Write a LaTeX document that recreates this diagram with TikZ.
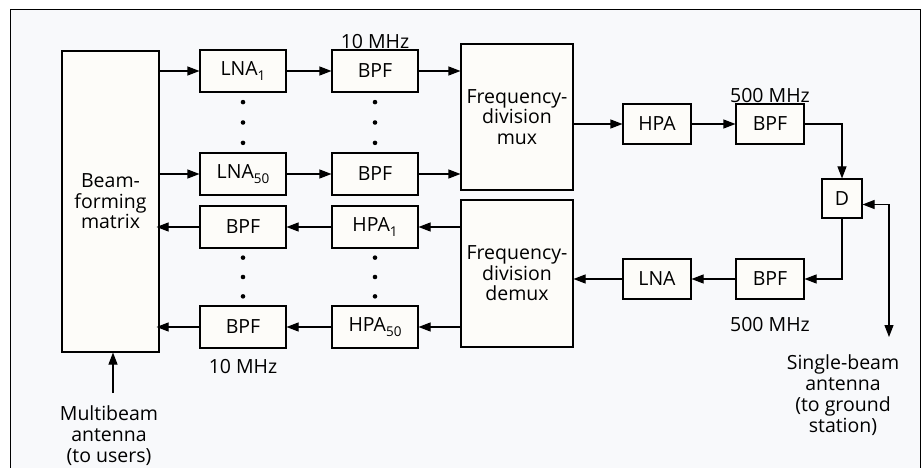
\documentclass[tikz,border=0pt]{standalone}
\usepackage{fontspec}
\setmainfont{Open Sans}
\usetikzlibrary{positioning, calc, arrows.meta}

\definecolor{panel}{HTML}{F8F9FB}
\definecolor{boxfill}{HTML}{FDFCF9}

\newcommand{\lowidx}[1]{\raisebox{-0.45ex}{\fontsize{13.5}{13.5}\selectfont #1}}

\tikzset{
    blk/.style={draw, line width=1.1pt, fill=boxfill, inner sep=0pt, align=center,
        minimum width=86pt, minimum height=42pt},
    narrow/.style={blk, minimum width=68pt, minimum height=40pt},
    lbl/.style={align=center, inner sep=0pt},
    link/.style={->, line width=1.1pt}
}

\begin{document}
\begin{tikzpicture}[x=1pt, y=-1pt, >={Triangle[length=12pt,width=9pt]},
    font=\fontsize{19.5}{20.5}\selectfont]
    \useasboundingbox (0,0) rectangle (922,468);

    % Panel
    \draw[line width=0.8pt, fill=panel] (10,9) rectangle (920,500);

    % Left side: matrix and the two banks
    \node[blk, minimum width=97pt, minimum height=301pt] (mtx) at (110.5,201.5) {Beam-\\forming\\matrix};
    \node[blk] (lnaA) at (243,71) {LNA\lowidx{1}};
    \node[blk] (bpfA) at (375,71) {BPF};
    \node[blk] (lnaB) at (243,174) {LNA\lowidx{50}};
    \node[blk] (bpfB) at (375,174) {BPF};
    \node[blk] (bpfC) at (243,227) {BPF};
    \node[blk] (hpaA) at (375,227) {HPA\lowidx{1}};
    \node[blk] (bpfD) at (243,327) {BPF};
    \node[blk] (hpaB) at (375,327) {HPA\lowidx{50}};

    % Mux and demux
    \node[blk, minimum width=112pt, minimum height=146pt] (mux) at (517,117) {Frequency-\\division\\mux};
    \node[blk, minimum width=112pt, minimum height=147pt] (dmx) at (517,273.5) {Frequency-\\division\\demux};

    % Right side
    \node[narrow] (hpaR) at (657,124) {HPA};
    \node[narrow] (bpfR) at (770,124) {BPF};
    \node[blk, minimum width=40pt, minimum height=39pt] (dd) at (842,198.5) {D};
    \node[narrow] (bpfS) at (770,279) {BPF};
    \node[narrow] (lnaS) at (657,279) {LNA};

    % Bandwidth labels
    \node[lbl, anchor=base] (bwA) at ([yshift=1pt]bpfA.north) {10 MHz};
    \node[lbl, anchor=north] (bwB) at ([yshift=-11pt]bpfD.south) {10 MHz};
    \node[lbl, anchor=base] (bwR) at ([yshift=1pt]bpfR.north) {500 MHz};
    \node[lbl, anchor=north] (bwS) at ([yshift=-18pt]bpfS.south) {500 MHz};

    % Antennas
    \node[lbl, anchor=north, font=\fontsize{19.5}{21}\selectfont] (mbeam) at (109,405) {Multibeam\\antenna\\(to users)};
    \node[lbl, anchor=north, font=\fontsize{19.5}{21}\selectfont] (sbeam) at (843,354) {Single-beam\\antenna\\(to ground\\station)};
    \coordinate (mbTail) at (113,393);
    \coordinate (sbTip) at (889,337);

    % Uplink chains
    \draw[link] (mtx.east |- lnaA) -- (lnaA);
    \draw[link] (lnaA) -- (bpfA);
    \draw[link] (bpfA) -- (bpfA -| mux.west);
    \draw[link] (mtx.east |- lnaB) -- (lnaB);
    \draw[link] (lnaB) -- (bpfB);
    \draw[link] (bpfB) -- (bpfB -| mux.west);

    % Downlink chains
    \draw[link] (hpaA -| dmx.west) -- (hpaA);
    \draw[link] (hpaA) -- (bpfC);
    \draw[link] (bpfC) -- ([xshift=-3pt]bpfC -| mtx.east);
    \draw[link] (hpaB -| dmx.west) -- (hpaB);
    \draw[link] (hpaB) -- (bpfD);
    \draw[link] (bpfD) -- ([xshift=-3pt]bpfD -| mtx.east);

    % Trunk side
    \draw[link] (mux.east |- hpaR) -- (hpaR);
    \draw[link] (hpaR) -- (bpfR);
    \draw[link] (bpfR) -| (dd);
    \draw[link] (dd) |- (bpfS);
    \draw[link] (bpfS) -- (lnaS);
    \draw[link] (lnaS) -- (lnaS -| dmx.east);
    \draw[<->, line width=1.1pt] (sbTip) |- ([yshift=-6pt]dd.east);
    \draw[link] (mbTail) -- (mbTail |- mtx.south);

    % Dots between the banks
    \foreach \t in {0.16,0.5,0.84} {
        \fill ($(lnaA.south)!\t!(lnaB.north)$) circle (2.3pt);
        \fill ($(bpfA.south)!\t!(bpfB.north)$) circle (2.3pt);
        \fill ($(bpfC.south)!\t!(bpfD.north)$) circle (2.3pt);
        \fill ($(hpaA.south)!\t!(hpaB.north)$) circle (2.3pt);
    }
\end{tikzpicture}
\end{document}
